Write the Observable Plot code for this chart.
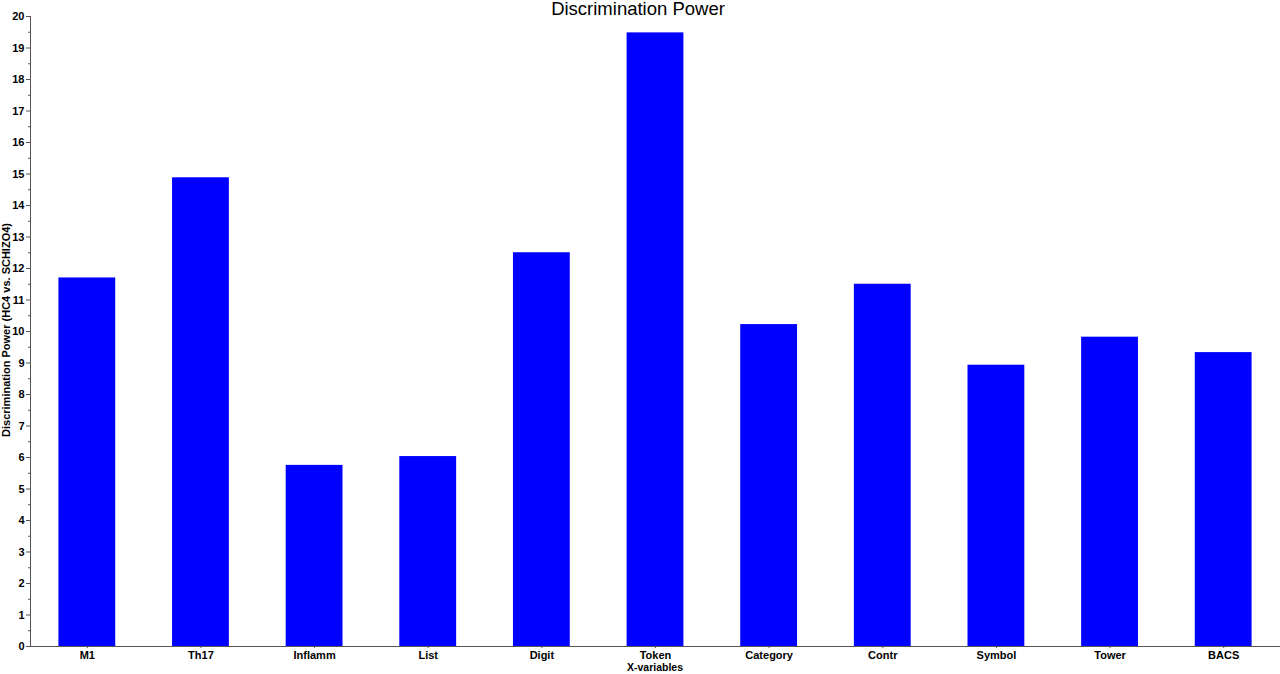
<!DOCTYPE html>
<html>
<head>
<meta charset="utf-8">
<script src="https://cdn.jsdelivr.net/npm/d3@7"></script>
<script src="https://cdn.jsdelivr.net/npm/@observablehq/plot@0.6"></script>
<style>
  body { margin: 0; background: #fff; font-family: "Liberation Sans", Arial, sans-serif; }
  #wrap { position: relative; width: 1280px; height: 674px; }
  #title { position: absolute; left: 0; top: -1px; width: 1276px; text-align: center; font-size: 18.5px; color: #000; line-height: 20px; z-index: 2; }
</style>
</head>
<body>
<div id="wrap">
  <div id="title">Discrimination Power</div>
  <div id="chart"></div>
</div>
<script>
const categories = ["M1", "Th17", "Inflamm", "List", "Digit", "Token", "Category", "Contr", "Symbol", "Tower", "BACS"];
const values = [11.7, 14.88, 5.75, 6.03, 12.5, 19.48, 10.22, 11.5, 8.93, 9.82, 9.33];
const majorTicks = d3.range(0, 21, 1);
const minorTicks = d3.range(0.5, 20, 1);

const data = categories.map((c, i) => ({category: c, value: values[i]}));

const plot = Plot.plot({
  width: 1280,
  height: 674,
  marginTop: 16,
  marginBottom: 28,
  marginLeft: 30,
  marginRight: 0,
  style: {fontFamily: "'Liberation Sans', Arial, sans-serif", background: "#fff"},
  x: {domain: categories, paddingInner: 0.5, paddingOuter: 0.25, align: 0.5, round: false, label: null},
  y: {domain: [0, 20], label: null},
  marks: [
    Plot.barY(data, {x: "category", y: "value", fill: "#0000ff"}),
    Plot.axisY({ticks: minorTicks, tickSize: 2, text: null, stroke: "#555"}),
    Plot.axisY({ticks: majorTicks, tickSize: 4, tickPadding: 2, stroke: "#555",
      fontSize: 11, fontWeight: "bold", fill: "#000", label: null}),
    Plot.axisX({tickSize: 2, tickPadding: 3, stroke: "#555", fontSize: 11, fontWeight: "bold", fill: "#000", label: null}),
    Plot.ruleY([0], {stroke: "#555", strokeWidth: 1}),
    Plot.frame({anchor: "left", stroke: "#555"})
  ]
});

const svg = d3.select(plot);
svg.append("text")
  .attr("x", 655).attr("y", 671)
  .attr("text-anchor", "middle")
  .attr("font-size", 10.5).attr("font-weight", "bold")
  .attr("fill", "#000")
  .text("X-variables");
svg.append("text")
  .attr("transform", "translate(10,330) rotate(-90)")
  .attr("text-anchor", "middle")
  .attr("font-size", 11).attr("font-weight", "bold")
  .attr("fill", "#000")
  .text("Discrimination Power (HC4 vs. SCHIZO4)");

document.getElementById("chart").appendChild(plot);
</script>
</body>
</html>
